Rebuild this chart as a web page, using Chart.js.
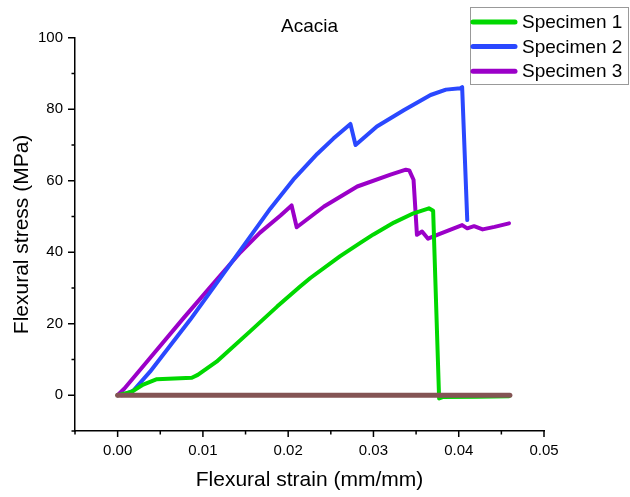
<!DOCTYPE html>
<html>
<head>
<meta charset="utf-8">
<script src="https://cdn.jsdelivr.net/npm/chart.js@4.4.1/dist/chart.umd.min.js"></script>
<style>
  html, body { margin: 0; padding: 0; background: #fff; }
</style>
</head>
<body>
<canvas id="grafico" width="630" height="497"></canvas>
<script>
// valores (Acacia)
const legendNames = ["Specimen 1", "Specimen 2", "Specimen 3"];

const strain1 = [0, 0.0016, 0.003, 0.0046, 0.0087, 0.0094, 0.0116, 0.0155, 0.0187, 0.0214, 0.0226, 0.0261, 0.0285, 0.030, 0.0324, 0.0347, 0.0365, 0.0370, 0.0377, 0.0381, 0.042, 0.0459];
const stress1 = [0, 0.9, 3.0, 4.5, 4.9, 5.7, 9.4, 17.8, 24.8, 30.4, 32.8, 38.9, 42.7, 45.0, 48.3, 50.9, 52.3, 51.6, -0.9, -0.5, -0.4, -0.3];

const strain2 = [0.0005, 0.0018, 0.0038, 0.0085, 0.0132, 0.0179, 0.0206, 0.0234, 0.0253, 0.0273, 0.0279, 0.0304, 0.0336, 0.0367, 0.0385, 0.0402, 0.0404, 0.0410];
const stress2 = [0, 1.2, 6.6, 21.1, 36.6, 52.2, 60.3, 67.5, 71.8, 75.9, 70.0, 75.2, 79.8, 84.0, 85.5, 85.9, 86.2, 49.0];

const strain3 = [0, 0.0008, 0.0038, 0.0077, 0.0116, 0.0144, 0.0167, 0.0191, 0.0204, 0.0210, 0.0242, 0.0281, 0.0320, 0.0338, 0.0342, 0.0347, 0.0351, 0.0357, 0.0364, 0.0377, 0.0404, 0.0410, 0.0418, 0.0428, 0.0442, 0.0459];
const stress3 = [0, 1.9, 10.4, 21.5, 32.3, 40.0, 45.5, 50.3, 53.1, 47.0, 52.8, 58.4, 61.7, 63.1, 62.9, 60.3, 44.9, 45.8, 43.8, 45.1, 47.6, 46.7, 47.3, 46.4, 47.1, 48.1];

const strainBase = [0, 0.046];
const stressBase = [0, 0];

const xTicksMin = -0.005, xTicksMax = 0.05, xStep = 0.005;
const yTicksMin = -10, yTicksMax = 100, yStep = 10;

const fonte = '"Liberation Sans", Arial, sans-serif';

function pontos(xs, ys) {
    return xs.map((v, i) => ({ x: v, y: ys[i] }));
}

function serie(label, xs, ys, cor, largura, ordem) {
    return {
        label: label,
        data: pontos(xs, ys),
        borderColor: cor,
        backgroundColor: cor,
        borderWidth: largura,
        borderCapStyle: 'round',
        borderJoinStyle: 'round',
        pointRadius: 0,
        showLine: true,
        fill: false,
        tension: 0,
        order: ordem
    };
}

// marcas dos eixos (maiores nos valores com rótulo)
const marcas = {
    id: 'marcas',
    afterDraw(chart) {
        const ctx = chart.ctx;
        const sx = chart.scales.x, sy = chart.scales.y;
        ctx.save();
        ctx.strokeStyle = '#000';
        ctx.lineWidth = 1.5;
        ctx.beginPath();
        sx.ticks.forEach(t => {
            const px = sx.getPixelForValue(t.value);
            const len = t.label !== '' ? 6 : 3.5;
            ctx.moveTo(px, sx.top);
            ctx.lineTo(px, sx.top + len);
        });
        sy.ticks.forEach(t => {
            const py = sy.getPixelForValue(t.value);
            const len = t.label !== '' ? 7 : 3.5;
            ctx.moveTo(sy.right, py);
            ctx.lineTo(sy.right - len, py);
        });
        ctx.stroke();
        ctx.restore();
    }
};

// legenda em caixa no canto superior direito
const legenda = {
    id: 'legenda',
    afterDraw(chart) {
        const ctx = chart.ctx;
        const itens = chart.data.datasets.filter(d => legendNames.includes(d.label));
        ctx.save();
        ctx.fillStyle = '#fff';
        ctx.fillRect(470.5, 7.5, 158, 77);
        ctx.strokeStyle = '#999';
        ctx.lineWidth = 1;
        ctx.strokeRect(470.5, 7.5, 158, 77);
        ctx.font = '19px ' + fonte;
        ctx.textBaseline = 'middle';
        itens.forEach((d, i) => {
            const y = 22 + i * 24.6;
            ctx.strokeStyle = d.borderColor;
            ctx.lineWidth = 5;
            ctx.lineCap = 'round';
            ctx.beginPath();
            ctx.moveTo(473, y);
            ctx.lineTo(515, y);
            ctx.stroke();
            ctx.fillStyle = '#000';
            ctx.fillText(d.label, 522, y + 1);
        });
        ctx.restore();
    }
};

const ctx = document.getElementById("grafico");

new Chart(ctx, {
    type: 'scatter',
    data: {
        datasets: [
            serie('base', strainBase, stressBase, '#845454', 5, 0),
            serie(legendNames[0], strain1, stress1, '#00D800', 4, 1),
            serie(legendNames[1], strain2, stress2, '#2A48FF', 4, 2),
            serie(legendNames[2], strain3, stress3, '#9B00C8', 4, 3)
        ]
    },
    options: {
        responsive: false,
        animation: false,
        devicePixelRatio: 1,
        layout: { padding: { top: 0, right: 86, bottom: 0, left: 0 } },
        plugins: {
            legend: { display: false },
            tooltip: { enabled: false },
            title: {
                display: true,
                text: 'Acacia',
                fullSize: false,
                color: '#000',
                font: { family: fonte, size: 19, weight: 'normal' },
                padding: { top: 15, bottom: 0 }
            }
        },
        scales: {
            x: {
                type: 'linear',
                min: xTicksMin,
                max: xTicksMax,
                afterFit: s => { s.height = 66; },
                border: { display: true, color: '#000', width: 1.5 },
                grid: { display: true, drawOnChartArea: false, drawTicks: false },
                ticks: {
                    stepSize: xStep,
                    autoSkip: false,
                    maxRotation: 0,
                    padding: 11,
                    color: '#000',
                    font: { family: fonte, size: 15 },
                    callback: v => (Math.round(v / xStep) % 2 === 0 ? v.toFixed(2) : '')
                },
                title: {
                    display: true,
                    text: 'Flexural strain (mm/mm)',
                    color: '#000',
                    font: { family: fonte, size: 21 },
                    padding: { top: 0, bottom: 4 }
                }
            },
            y: {
                type: 'linear',
                min: yTicksMin,
                max: yTicksMax,
                afterFit: s => { s.width = 75; },
                border: { display: true, color: '#000', width: 1.5 },
                grid: { display: true, drawOnChartArea: false, drawTicks: false },
                ticks: {
                    stepSize: yStep,
                    autoSkip: false,
                    padding: 12,
                    color: '#000',
                    font: { family: fonte, size: 15 },
                    callback: v => (v >= 0 && v % 20 === 0 ? v : '')
                },
                title: {
                    display: true,
                    text: 'Flexural stress (MPa)',
                    color: '#000',
                    font: { family: fonte, size: 21 },
                    padding: { top: 10, bottom: 0 }
                }
            }
        }
    },
    plugins: [marcas, legenda]
});
</script>
</body>
</html>
